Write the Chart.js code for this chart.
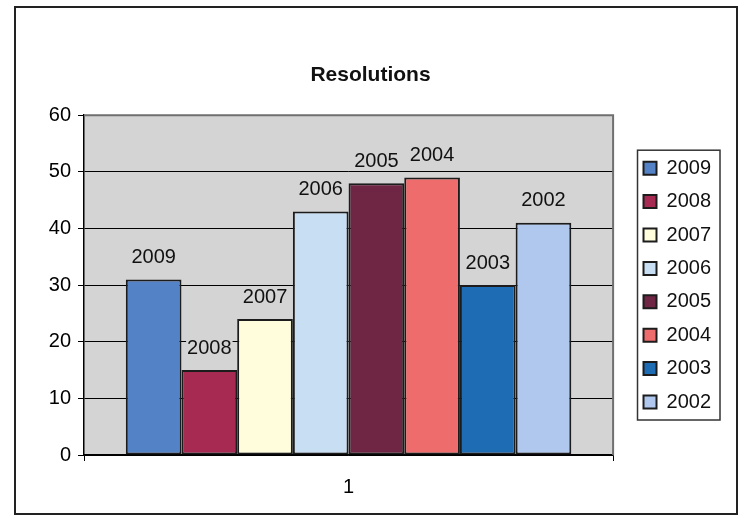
<!DOCTYPE html>
<html>
<head>
<meta charset="utf-8">
<script src="https://cdn.jsdelivr.net/npm/chart.js@4/dist/chart.umd.min.js"></script>
<style>
  html, body { margin: 0; padding: 0; background: #fff; }
  #wrap { width: 746px; height: 529px; }
</style>
</head>
<body>
<div id="wrap"><canvas id="resolutionsChart" width="746" height="529"></canvas></div>
<script>
// data
const categories = ['1'];
const years = ['2009', '2008', '2007', '2006', '2005', '2004', '2003', '2002'];
const resolutions = [31, 15, 24, 43, 48, 49, 30, 41];
const yTicks = [0, 10, 20, 30, 40, 50, 60];
const barColors = ['#5482c7', '#a62a52', '#fffddc', '#c8def2', '#6e2644', '#ee6c6c', '#1e6cb4', '#b0c8ee'];

const FONT = '"Liberation Sans", Arial, sans-serif';
const PLOT_BG = '#d4d4d4';

// grey plot area + outer frame + legend frame, the Excel look
const frame = {
    id: 'frame',
    beforeDatasetsDraw(chart) {
        const { ctx, chartArea: a } = chart;
        ctx.save();
        ctx.globalCompositeOperation = 'destination-over';
        ctx.fillStyle = PLOT_BG;
        ctx.fillRect(a.left, a.top, a.right - a.left, a.bottom - a.top);
        ctx.restore();
        ctx.save();
        ctx.strokeStyle = '#6f6f6f';
        ctx.lineWidth = 2;
        ctx.beginPath();
        ctx.moveTo(a.left, a.top);
        ctx.lineTo(a.right, a.top);
        ctx.lineTo(a.right, a.bottom);
        ctx.stroke();
        ctx.restore();
    },
    afterDraw(chart) {
        const { ctx } = chart;
        ctx.save();
        ctx.strokeStyle = '#222';
        ctx.lineWidth = 2;
        ctx.strokeRect(15, 7, 722, 507);
        // box around the legend items
        const hb = chart.legend.legendHitBoxes;
        if (hb && hb.length) {
            const l = Math.min(...hb.map(h => h.left)) - 6;
            const r = Math.max(...hb.map(h => h.left + h.width)) + 9;
            const t = Math.min(...hb.map(h => h.top)) - 8;
            const b = Math.max(...hb.map(h => h.top + h.height)) + 8;
            ctx.lineWidth = 1.5;
            ctx.strokeStyle = '#333';
            ctx.strokeRect(l, t, r - l, b - t);
        }
        ctx.restore();
    }
};

// series name above each bar, like the Excel data labels
const barLabels = {
    id: 'barLabels',
    afterDatasetsDraw(chart) {
        const { ctx } = chart;
        ctx.save();
        ctx.font = '20px ' + FONT;
        ctx.textAlign = 'center';
        ctx.textBaseline = 'middle';
        chart.data.datasets.forEach((ds, i) => {
            const meta = chart.getDatasetMeta(i);
            meta.data.forEach(bar => {
                const y = bar.y - 23;
                const w = ctx.measureText(ds.label).width;
                ctx.fillStyle = PLOT_BG;
                ctx.fillRect(bar.x - w / 2 - 1, y - 9, w + 2, 18);
                ctx.fillStyle = '#111';
                ctx.fillText(ds.label, bar.x, y + 1);
            });
        });
        ctx.restore();
    }
};

const ctx_bar = document.getElementById('resolutionsChart').getContext('2d');

const resolutionsChart = new Chart(ctx_bar, {
    type: 'bar',
    data: {
        labels: categories,
        datasets: years.map((yr, i) => ({
            label: yr,
            data: [resolutions[i]],
            backgroundColor: barColors[i],
            borderColor: '#1c1c1c',
            borderWidth: 2,
            borderSkipped: false,
            barPercentage: 1.0,
            categoryPercentage: 0.842
        }))
    },
    options: {
        responsive: false,
        maintainAspectRatio: false,
        animation: false,
        layout: {
            padding: { left: 20, right: 25, top: 10, bottom: 16 }
        },
        scales: {
            x: {
                offset: true,
                grid: {
                    offset: true,
                    drawOnChartArea: false,
                    drawTicks: true,
                    tickLength: 6,
                    color: '#000'
                },
                border: { display: true, color: '#000', width: 1.5 },
                ticks: {
                    color: '#000',
                    padding: 14,
                    font: { family: FONT, size: 20 }
                }
            },
            y: {
                min: 0,
                max: 60,
                afterFit(scale) { scale.width = 64; },
                afterBuildTicks(scale) { scale.ticks = yTicks.map(v => ({ value: v })); },
                grid: {
                    color: '#000',
                    lineWidth: 1,
                    drawTicks: true,
                    tickLength: 6,
                    tickColor: '#000'
                },
                border: { display: true, color: '#000', width: 1.5 },
                ticks: {
                    color: '#000',
                    padding: 7,
                    font: { family: FONT, size: 20 }
                }
            },
            // empty spacer so the legend sits a bit off the plot
            gap: {
                type: 'linear',
                position: 'right',
                display: true,
                afterFit(scale) { scale.width = 17; },
                grid: { display: false },
                border: { display: false },
                ticks: { display: false }
            }
        },
        plugins: {
            title: {
                display: true,
                text: 'Resolutions',
                color: '#111',
                font: { family: FONT, size: 21, weight: 'bold' },
                padding: { top: 53, bottom: 27 }
            },
            legend: {
                display: true,
                position: 'right',
                fullSize: false,
                labels: {
                    color: '#111',
                    boxWidth: 13,
                    boxHeight: 13,
                    padding: 13.4,
                    font: { family: FONT, size: 20 },
                    generateLabels(chart) {
                        return chart.data.datasets.map((ds, i) => ({
                            text: ds.label,
                            fillStyle: ds.backgroundColor,
                            strokeStyle: '#1c1c1c',
                            lineWidth: 2,
                            fontColor: '#111',
                            datasetIndex: i
                        }));
                    }
                }
            },
            tooltip: { enabled: true }
        }
    },
    plugins: [frame, barLabels]
});
</script>
</body>
</html>
